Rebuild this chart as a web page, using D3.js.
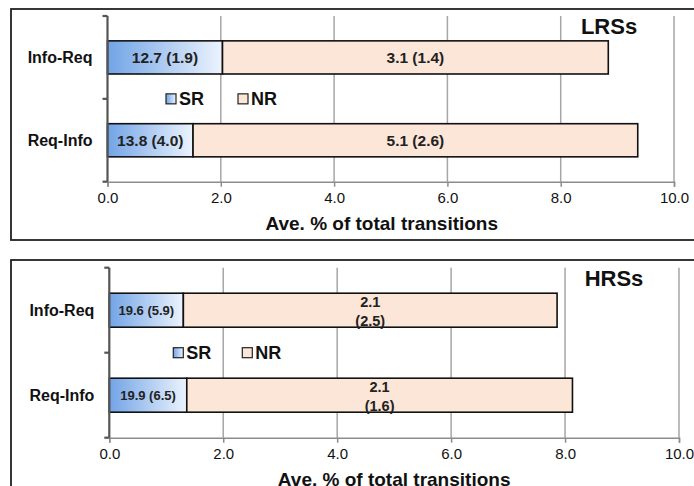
<!DOCTYPE html>
<html>
<head>
<meta charset="utf-8">
<script src="https://cdn.jsdelivr.net/npm/d3@7"></script>
<style>
  body { margin: 0; background: #fff; }
  text { font-family: "Liberation Sans", Arial, sans-serif; }
</style>
</head>
<body>
<div id="chart"></div>
<script>
// categories and tick labels
let categories = ["Info-Req", "Req-Info"];
let xTicks = [0, 2, 4, 6, 8, 10];
let seriesNames = ["SR", "NR"];

// LRSs panel (bar lengths)
let lrsSR = [2.03, 1.51];
let lrsNR = [6.81, 7.85];
let lrsSRLabels = ["12.7 (1.9)", "13.8 (4.0)"];
let lrsNRLabels = ["3.1 (1.4)", "5.1 (2.6)"];

// HRSs panel
let hrsSR = [1.30, 1.36];
let hrsNR = [6.56, 6.77];
let hrsSRLabels = ["19.6 (5.9)", "19.9 (6.5)"];
let hrsNRLabels = ["2.1|(2.5)", "2.1|(1.6)"];

let svgWidth = 694, svgHeight = 486;
let fmt = d3.format(".1f");

let panels = [
    {title: "LRSs", sr: lrsSR, nr: lrsNR, srLab: lrsSRLabels, nrLab: lrsNRLabels,
     box: {x: 11, y: 9, h: 231}, left: 107.5, right: 674, top: 16, bottom: 181.7,
     srSize: 15.5, nrSize: 15.5, legDx: 58.5, legStep: 72, titleDx: -9},
    {title: "HRSs", sr: hrsSR, nr: hrsNR, srLab: hrsSRLabels, nrLab: hrsNRLabels,
     box: {x: 11, y: 260, h: 260}, left: 109.3, right: 679, top: 267.7, bottom: 437.7,
     srSize: 13, nrSize: 14.5, legDx: 64, legStep: 69, titleDx: 0}
];

let svg = d3.select("#chart").append("svg")
    .attr("width", svgWidth)
    .attr("height", svgHeight);

// gradient for SR bars
let grad = svg.append("defs").append("linearGradient")
    .attr("id", "srGrad")
    .attr("x1", "0%").attr("x2", "100%").attr("y1", "0%").attr("y2", "0%");
grad.append("stop").attr("offset", "0%").attr("stop-color", "#72a4e6");
grad.append("stop").attr("offset", "100%").attr("stop-color", "#ecf3fd");

const color = d3.scaleOrdinal()
    .domain(seriesNames)
    .range(["url(#srGrad)", "#fce6d8"]);

panels.forEach(function(p) {
    let g = svg.append("g");

    // panel frame
    g.append("rect")
        .attr("x", p.box.x)
        .attr("y", p.box.y)
        .attr("width", 800)
        .attr("height", p.box.h)
        .attr("fill", "none")
        .attr("stroke", "#222")
        .attr("stroke-width", 1.8);

    let x = d3.scaleLinear().domain([0, 10]).range([p.left, p.right]);
    let y = d3.scaleBand().domain(categories).range([p.top, p.bottom])
        .paddingInner(0.6).paddingOuter(0.3);

    // vertical gridlines
    g.selectAll(".grid")
        .data(xTicks.filter(d => d > 0))
        .enter().append("line")
        .attr("x1", d => x(d)).attr("x2", d => x(d))
        .attr("y1", p.top).attr("y2", p.bottom)
        .attr("stroke", "#a6a6a6")
        .attr("stroke-width", 1.5);

    // bottom axis
    let xAxis = d3.axisBottom(x)
        .tickValues(xTicks)
        .tickFormat(fmt)
        .tickSize(5)
        .tickPadding(6);
    let ax = g.append("g")
        .attr("transform", "translate(0," + p.bottom + ")")
        .call(xAxis);
    ax.select(".domain").attr("stroke", "#8c8c8c").attr("stroke-width", 1.5);
    ax.selectAll(".tick line").attr("stroke", "#8c8c8c").attr("stroke-width", 1.5);
    ax.selectAll(".tick text")
        .attr("font-size", 15)
        .attr("fill", "#111")
        .style("font-family", "Liberation Sans, Arial, sans-serif");

    // stacked bars
    let stackData = categories.map(function(c, i) {
        return {cat: c, SR: p.sr[i], NR: p.nr[i], srLab: p.srLab[i], nrLab: p.nrLab[i]};
    });
    let series = d3.stack().keys(seriesNames)(stackData);

    let layers = g.selectAll(".layer")
        .data(series)
        .enter().append("g")
        .attr("fill", d => color(d.key));

    layers.selectAll("rect")
        .data(d => d)
        .enter().append("rect")
        .attr("x", d => x(d[0]))
        .attr("y", d => y(d.data.cat))
        .attr("width", d => x(d[1]) - x(d[0]))
        .attr("height", y.bandwidth())
        .attr("stroke", "#111")
        .attr("stroke-width", 1.6);

    layers.each(function(s) {
        d3.select(this).selectAll(".bar-label")
            .data(s)
            .enter().append("text")
            .attr("class", "bar-label")
            .attr("x", d => (x(d[0]) + x(d[1])) / 2)
            .attr("y", d => y(d.data.cat) + y.bandwidth() / 2)
            .attr("text-anchor", "middle")
            .attr("fill", "#222")
            .attr("font-weight", "bold")
            .attr("font-size", s.key == "SR" ? p.srSize : p.nrSize)
            .each(function(d) {
                let lines = (s.key == "SR" ? d.data.srLab : d.data.nrLab).split("|");
                let t = d3.select(this);
                lines.forEach(function(l, k) {
                    // wrapped labels sit low in the bar, like the original
                    let dy = lines.length == 1 ? "0.35em" : (k == 0 ? "-0.2em" : "1.3em");
                    t.append("tspan")
                        .attr("x", (x(d[0]) + x(d[1])) / 2)
                        .attr("dy", dy)
                        .text(l);
                });
            });
    });

    // left axis with boundary ticks
    g.append("line")
        .attr("x1", p.left).attr("x2", p.left)
        .attr("y1", p.top).attr("y2", p.bottom)
        .attr("stroke", "#555")
        .attr("stroke-width", 2.2);
    let bounds = d3.range(categories.length + 1)
        .map(i => p.top + i * (p.bottom - p.top) / categories.length);
    g.selectAll(".ytick")
        .data(bounds)
        .enter().append("line")
        .attr("x1", p.left - 5).attr("x2", p.left)
        .attr("y1", d => d).attr("y2", d => d)
        .attr("stroke", "#555")
        .attr("stroke-width", 2.2);

    g.selectAll(".cat")
        .data(categories)
        .enter().append("text")
        .attr("x", p.left - 15)
        .attr("y", d => y(d) + y.bandwidth() / 2)
        .attr("dy", "0.35em")
        .attr("text-anchor", "end")
        .attr("font-weight", "bold")
        .attr("font-size", 16)
        .attr("fill", "#111")
        .text(d => d);

    // legend in the gap between the bars
    let ly = bounds[1];
    let leg = g.selectAll(".legend")
        .data(seriesNames)
        .enter().append("g")
        .attr("transform", (d, i) => "translate(" + (p.left + p.legDx + i * p.legStep) + "," + ly + ")");
    leg.append("rect")
        .attr("x", 0).attr("y", -5)
        .attr("width", 10).attr("height", 10)
        .attr("fill", d => color(d))
        .attr("stroke", "#222")
        .attr("stroke-width", 1.2);
    leg.append("text")
        .attr("x", 13)
        .attr("dy", "0.36em")
        .attr("font-weight", "bold")
        .attr("font-size", 18)
        .attr("fill", "#111")
        .text(d => d);

    // panel title
    g.append("text")
        .attr("x", p.right - 65)
        .attr("y", p.top + 10)
        .attr("dy", "0.36em")
        .attr("text-anchor", "middle")
        .attr("font-weight", "bold")
        .attr("font-size", 22)
        .attr("fill", "#111")
        .text(p.title);

    // axis title
    g.append("text")
        .attr("x", (p.left + p.right) / 2 + p.titleDx)
        .attr("y", p.bottom + 41)
        .attr("dy", "0.36em")
        .attr("text-anchor", "middle")
        .attr("font-weight", "bold")
        .attr("font-size", 19)
        .attr("fill", "#111")
        .text("Ave. % of total transitions");
});
</script>
</body>
</html>
